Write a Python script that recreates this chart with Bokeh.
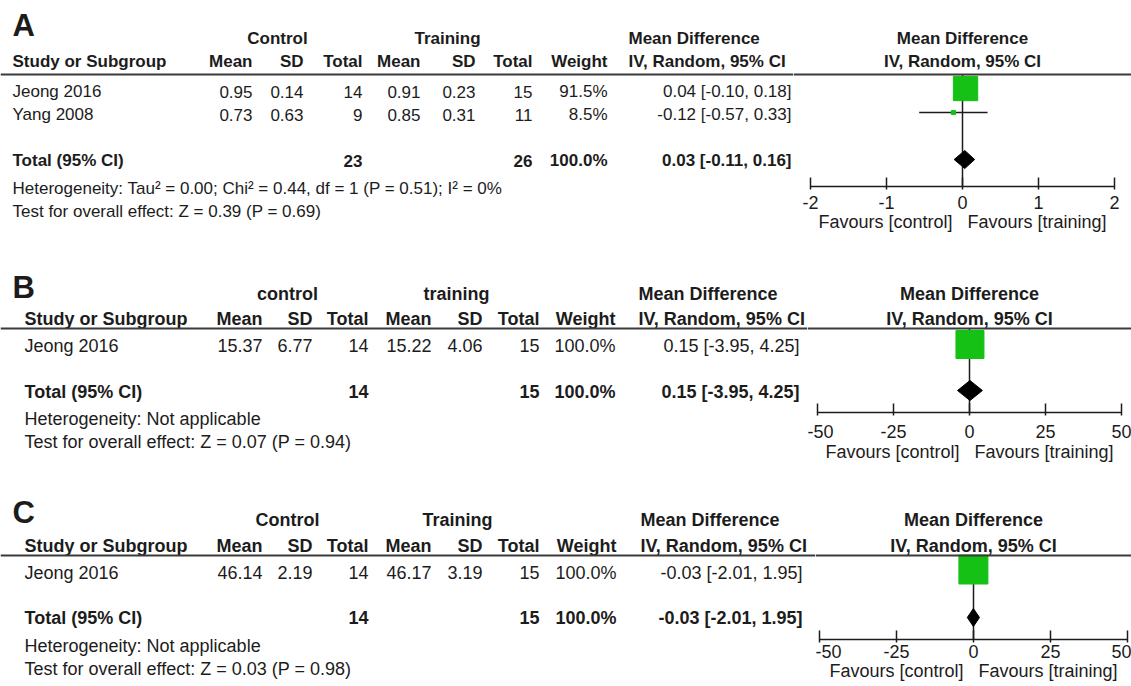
from bokeh.plotting import figure
from bokeh.layouts import column, row
from bokeh.models import Range1d, FixedTicker, Span
from bokeh.core.properties import value
from bokeh.embed import file_html
from bokeh.resources import INLINE

FONT = "Liberation Sans"
INK = "#1c1c1c"
GREEN = "#14c114"

# ---------------- data ----------------
HEAD = ["Study or Subgroup", "Mean", "SD", "Total", "Mean", "SD", "Total", "Weight", "IV, Random, 95% CI"]
MD_TITLE = "Mean Difference"
TOTAL_LABEL = "Total (95% CI)"
FAV = ["Favours [control]", "Favours [training]"]

# Panel A
A_study = ["Jeong 2016", "Yang 2008"]
A_ctrl_mean = [0.95, 0.73]
A_ctrl_sd = [0.14, 0.63]
A_ctrl_n = [14, 9]
A_trn_mean = [0.91, 0.85]
A_trn_sd = [0.23, 0.31]
A_trn_n = [15, 11]
A_weight = [91.5, 8.5]
A_md = [0.04, -0.12]
A_lo = [-0.10, -0.57]
A_hi = [0.18, 0.33]
A_total = [23, 26, 100.0, 0.03, -0.11, 0.16]   # ctrl n, training n, weight, md, lo, hi
A_groups = ["Control", "Training"]
A_het = "Heterogeneity: Tau² = 0.00; Chi² = 0.44, df = 1 (P = 0.51); I² = 0%"
A_test = "Test for overall effect: Z = 0.39 (P = 0.69)"
A_ticks = [-2, -1, 0, 1, 2]
A_tick_labels = ["-2", "-1", "0", "1", "2"]

# Panel B
B_study = ["Jeong 2016"]
B_ctrl_mean = [15.37]
B_ctrl_sd = [6.77]
B_ctrl_n = [14]
B_trn_mean = [15.22]
B_trn_sd = [4.06]
B_trn_n = [15]
B_weight = [100.0]
B_md = [0.15]
B_lo = [-3.95]
B_hi = [4.25]
B_total = [14, 15, 100.0, 0.15, -3.95, 4.25]
B_groups = ["control", "training"]
B_het = "Heterogeneity: Not applicable"
B_test = "Test for overall effect: Z = 0.07 (P = 0.94)"
B_ticks = [-50, -25, 0, 25, 50]
B_tick_labels = ["-50", "-25", "0", "25", "50"]

# Panel C
C_study = ["Jeong 2016"]
C_ctrl_mean = [46.14]
C_ctrl_sd = [2.19]
C_ctrl_n = [14]
C_trn_mean = [46.17]
C_trn_sd = [3.19]
C_trn_n = [15]
C_weight = [100.0]
C_md = [-0.03]
C_lo = [-2.01]
C_hi = [1.95]
C_total = [14, 15, 100.0, -0.03, -2.01, 1.95]
C_groups = ["Control", "Training"]
C_het = "Heterogeneity: Not applicable"
C_test = "Test for overall effect: Z = 0.03 (P = 0.98)"
C_ticks = [-50, -25, 0, 25, 50]
C_tick_labels = ["-50", "-25", "0", "25", "50"]

# ---------------- layout (pixels from the top-left corner) ----------------
PAGE_R = 1131
LAY_A = dict(letter="A", top=0, bottom=262, zero=962, scale=76.0, fs=17,
             letter_y=25, left=12, group_y=38, group_cx=[277, 447], head_y=61, line_y=74,
             cols=[252, 303, 362, 420, 475, 532, 607], md_left=628, md_right=791,
             row_y=[91, 114], mark_y=[88, 112], total_y=160, diamond_y=159, dh=9,
             het_y=188, test_y=211, axis_y=186, sd1=6, sd2=0, sq_base=26)
LAY_B = dict(letter="B", top=262, bottom=490, zero=969, scale=3.04, fs=18,
             letter_y=287, left=24, group_y=293, group_cx=[287, 456], head_y=318, line_y=328,
             cols=[262, 312, 368, 431, 482, 539, 615], md_left=638, md_right=799,
             row_y=[345], mark_y=[344], total_y=391, diamond_y=390, dh=10,
             het_y=418, test_y=441, axis_y=412, sd1=9, sd2=1, sq_base=28)
LAY_C = dict(letter="C", top=490, bottom=686, zero=973, scale=3.08, fs=18,
             letter_y=512, left=24, group_y=519, group_cx=[287, 457], head_y=545, line_y=555,
             cols=[262, 312, 368, 431, 482, 539, 616], md_left=640, md_right=802,
             row_y=[572], mark_y=[569], total_y=617, diamond_y=617, dh=9,
             het_y=645, test_y=668, axis_y=639, sd1=2, sd2=0, sq_base=29)


def put(fig, xs, ys, texts, align="left", bold=False, size="17px"):
    fig.text(x=xs, y=ys, text=texts, text_align=align, text_baseline="middle",
             text_font=value(FONT), text_font_size=size,
             text_font_style="bold" if bold else "normal", text_color=INK)


def md_str(m, lo, hi):
    return f"{m:.2f} [{lo:.2f}, {hi:.2f}]"


def panel(study, cm, csd, cn, tm, tsd, tn, w, md, lo, hi, total, groups, het, test,
          ticks, tick_labels, L):
    top, bot = L["top"], L["bottom"]
    z, s, ay = L["zero"], L["scale"], L["axis_y"]
    split = 2 * z - PAGE_R          # forest frame symmetric about the line of no effect
    fs = f'{L["fs"]}px'
    common = dict(output_backend="svg", toolbar_location=None, min_border=0,
                  background_fill_color="white", border_fill_color="white")
    # ---------- table part ----------
    t = figure(width=split, height=bot - top, x_range=Range1d(0, split),
               y_range=Range1d(bot, top), x_axis_location=None, y_axis_location=None, **common)
    t.frame_align = False
    t.outline_line_color = None
    t.grid.visible = False
    t.add_layout(Span(location=L["line_y"], dimension="width", line_color="#3a3a3a", line_width=2))
    put(t, [12], [L["letter_y"]], [L["letter"]], bold=True, size="31px")
    put(t, L["group_cx"], [L["group_y"]] * 2, groups, align="center", bold=True, size=fs)
    put(t, [L["md_left"]], [L["group_y"]], [MD_TITLE], bold=True, size=fs)
    put(t, [L["left"]], [L["head_y"]], [HEAD[0]], bold=True, size=fs)
    put(t, L["cols"], [L["head_y"]] * 7, HEAD[1:8], align="right", bold=True, size=fs)
    put(t, [L["md_left"]], [L["head_y"]], [HEAD[8]], bold=True, size=fs)
    ry = L["row_y"]
    put(t, [L["left"]] * len(study), ry, study, size=fs)
    c = L["cols"]
    put(t, [c[0]] * len(ry), ry, [f"{v:.2f}" for v in cm], align="right", size=fs)
    put(t, [c[1]] * len(ry), ry, [f"{v:.2f}" for v in csd], align="right", size=fs)
    put(t, [c[2]] * len(ry), ry, [str(v) for v in cn], align="right", size=fs)
    put(t, [c[3]] * len(ry), ry, [f"{v:.2f}" for v in tm], align="right", size=fs)
    put(t, [c[4]] * len(ry), ry, [f"{v:.2f}" for v in tsd], align="right", size=fs)
    put(t, [c[5]] * len(ry), ry, [str(v) for v in tn], align="right", size=fs)
    put(t, [c[6]] * len(ry), ry, [f"{v:.1f}%" for v in w], align="right", size=fs)
    put(t, [L["md_right"]] * len(ry), ry, [md_str(a, b, d) for a, b, d in zip(md, lo, hi)],
        align="right", size=fs)
    ty = L["total_y"]
    put(t, [L["left"]], [ty], [TOTAL_LABEL], bold=True, size=fs)
    put(t, [c[2], c[5], c[6]], [ty] * 3, [str(total[0]), str(total[1]), f"{total[2]:.1f}%"],
        align="right", bold=True, size=fs)
    put(t, [L["md_right"]], [ty], [md_str(total[3], total[4], total[5])], align="right",
        bold=True, size=fs)
    put(t, [L["left"]] * 2, [L["het_y"], L["test_y"]], [het, test], size=fs)

    # ---------- forest part ----------
    f = figure(width=PAGE_R - split, height=bot - top,
               x_range=Range1d((split - z) / s, (PAGE_R - z) / s),
               y_range=Range1d(ay, top), x_axis_location="below", y_axis_location=None,
               min_border_bottom=bot - ay, **common)
    f.frame_align = False
    f.outline_line_color = None
    f.grid.grid_line_color = None
    f.grid.visible = False
    f.add_layout(Span(location=L["line_y"], dimension="width", line_color="#3a3a3a", line_width=2))
    ax = f.xaxis[0]
    ax.ticker = FixedTicker(ticks=ticks)
    ax.major_label_overrides = {tk: lb for tk, lb in zip(ticks, tick_labels)}
    ax.bounds = (ticks[0], ticks[-1])
    ax.axis_line_color = INK
    ax.axis_line_width = 1.5
    ax.major_tick_line_color = INK
    ax.major_tick_line_width = 1.5
    ax.major_tick_in = 9
    ax.major_tick_out = 3
    ax.minor_tick_line_color = None
    ax.major_label_text_font = FONT
    ax.major_label_text_font_size = "18px"
    ax.major_label_text_color = INK
    ax.major_label_standoff = L["sd1"]
    ax.axis_label = FAV[0] + "\u00a0\u00a0\u00a0" + FAV[1]
    ax.axis_label_text_font = FONT
    ax.axis_label_text_font_size = "18px"
    ax.axis_label_text_font_style = "normal"
    ax.axis_label_text_color = INK
    ax.axis_label_standoff = L["sd2"]

    put(f, [0, 0], [L["group_y"], L["head_y"]], [MD_TITLE, HEAD[8]], align="center", bold=True, size=fs)
    # line of no effect
    f.segment(x0=[0], y0=[L["line_y"]], x1=[0], y1=[ay], line_color=INK, line_width=1.5)
    my = L["mark_y"]
    f.segment(x0=lo, y0=my, x1=hi, y1=my, line_color=INK, line_width=1.5)
    sizes = [L["sq_base"] * (v / 100.0) ** 0.75 for v in w]
    f.scatter(x=md, y=my, size=sizes, marker="square", fill_color=GREEN, line_color=GREEN)
    dy, dh = L["diamond_y"], L["dh"]
    f.patch(x=[total[4], total[3], total[5], total[3]], y=[dy, dy - dh, dy, dy + dh],
            fill_color="black", line_color="black", line_width=1)
    return row(t, f)


pA = panel(A_study, A_ctrl_mean, A_ctrl_sd, A_ctrl_n, A_trn_mean, A_trn_sd, A_trn_n, A_weight,
           A_md, A_lo, A_hi, A_total, A_groups, A_het, A_test, A_ticks, A_tick_labels, LAY_A)
pB = panel(B_study, B_ctrl_mean, B_ctrl_sd, B_ctrl_n, B_trn_mean, B_trn_sd, B_trn_n, B_weight,
           B_md, B_lo, B_hi, B_total, B_groups, B_het, B_test, B_ticks, B_tick_labels, LAY_B)
pC = panel(C_study, C_ctrl_mean, C_ctrl_sd, C_ctrl_n, C_trn_mean, C_trn_sd, C_trn_n, C_weight,
           C_md, C_lo, C_hi, C_total, C_groups, C_het, C_test, C_ticks, C_tick_labels, LAY_C)

layout = column(pA, pB, pC)
open("out.html", "w").write(file_html(layout, INLINE))
